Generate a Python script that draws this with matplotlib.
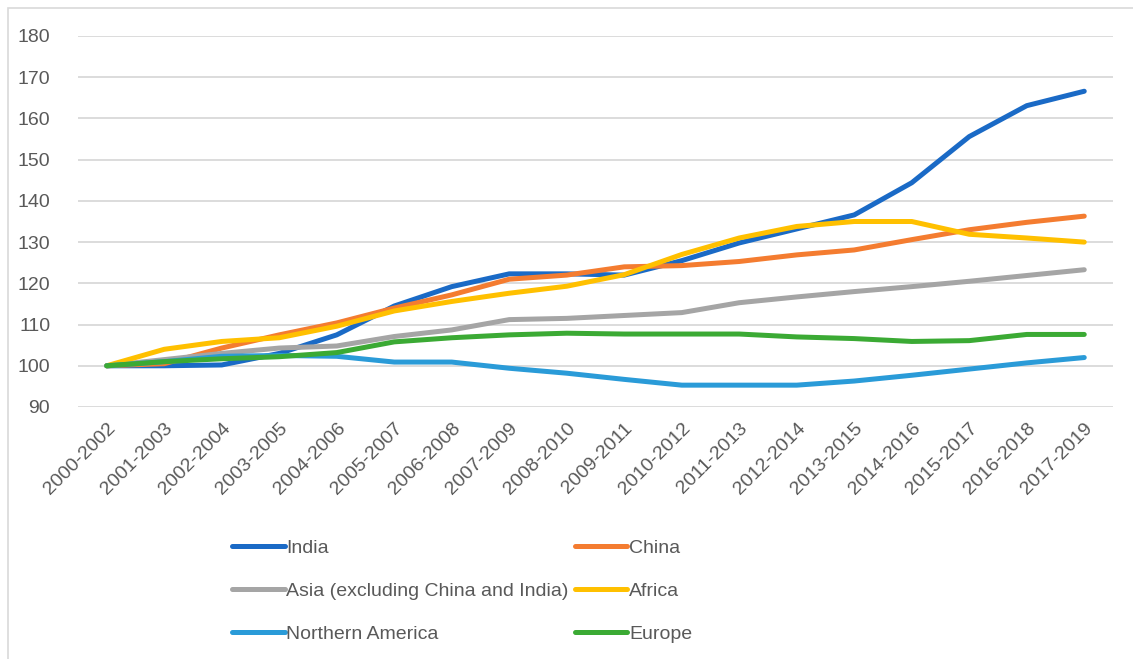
import matplotlib
matplotlib.use('Agg')
import matplotlib.pyplot as plt
from matplotlib.patches import Rectangle

# Dados (índice, 2000-2002 = 100)
periods = ["2000-2002", "2001-2003", "2002-2004", "2003-2005", "2004-2006", "2005-2007",
           "2006-2008", "2007-2009", "2008-2010", "2009-2011", "2010-2012", "2011-2013",
           "2012-2014", "2013-2015", "2014-2016", "2015-2017", "2016-2018", "2017-2019"]

india = [100, 100, 100.2, 103, 107.5, 114.5, 119.2, 122.3, 122.3, 122, 125.5, 129.8,
         133.2, 136.6, 144.4, 155.6, 163.1, 166.6]
china = [100, 100.5, 104.3, 107.5, 110.4, 114, 117.2, 121, 122, 124, 124.3, 125.3,
         126.9, 128.1, 130.6, 133, 134.8, 136.3]
asia = [100, 101.5, 103, 104.3, 104.8, 107.1, 108.7, 111.2, 111.5, 112.2, 112.9, 115.3,
        116.7, 118, 119.2, 120.5, 121.9, 123.3]
africa = [100, 104, 105.9, 106.8, 109.6, 113.3, 115.6, 117.6, 119.3, 122.1, 127, 131,
          133.8, 135, 135, 131.9, 131, 130]
n_america = [100, 101, 102.3, 102.5, 102.3, 100.9, 100.9, 99.4, 98.2, 96.7, 95.3, 95.3,
             95.3, 96.3, 97.7, 99.2, 100.7, 102]
europe = [100, 101, 101.7, 102.2, 103.2, 105.8, 106.8, 107.5, 107.9, 107.7, 107.7, 107.7,
          107, 106.6, 105.9, 106.1, 107.6, 107.6]

series = [
    ("India", india, "#1A6AC6"),
    ("China", china, "#F47C30"),
    ("Asia (excluding China and India)", asia, "#A5A5A5"),
    ("Africa", africa, "#FFC000"),
    ("Northern America", n_america, "#2A9BD8"),
    ("Europe", europe, "#3BAA34"),
]

TEXT = "#595959"
GRID = "#D9D9D9"
plt.rcParams['font.family'] = ['Liberation Sans', 'DejaVu Sans']

fig = plt.figure(figsize=(11.33, 6.59), dpi=100)
ax = fig.add_axes([78 / 1133, 1 - 407 / 659, (1113 - 78) / 1133, (407 - 36) / 659])

# Moldura externa
fig.patches.append(Rectangle((8 / 1133, -0.05), 1.1, 1 - 8 / 659 + 0.05,
                             transform=fig.transFigure, fill=False,
                             edgecolor=GRID, linewidth=1.2))

x = list(range(len(periods)))
lines = []
for name, vals, color in series:
    ln, = ax.plot(x, vals, color=color, linewidth=3.6, label=name,
                  solid_capstyle='round', solid_joinstyle='round')
    lines.append(ln)

ax.set_xlim(-0.5, len(periods) - 0.5)
ax.set_ylim(90, 180)
ax.set_yticks(range(90, 181, 10))
ax.set_xticks(x)
ax.set_xticklabels(periods, rotation=45, ha='right', rotation_mode='anchor')

ax.grid(True, axis='y', color=GRID, linewidth=1.3)
ax.set_axisbelow(True)
for s in ax.spines.values():
    s.set_visible(False)
ax.tick_params(axis='both', length=0, colors=TEXT)
ax.tick_params(axis='y', labelsize=14, pad=20)
ax.tick_params(axis='x', labelsize=14, pad=9)

# Legenda em 2 colunas, preenchida por linha (como no Excel)
order = [0, 2, 4, 1, 3, 5]
fig.legend([lines[i] for i in order], [series[i][0] for i in order],
           loc='center left', bbox_to_anchor=(232 / 1133, 1 - 591 / 659), ncol=2,
           frameon=False, fontsize=14, handlelength=2.7, handletextpad=0.1,
           columnspacing=0.3, labelspacing=1.32, borderpad=0, borderaxespad=0,
           labelcolor=TEXT)

fig.savefig('out.png', dpi=100, facecolor='white')
